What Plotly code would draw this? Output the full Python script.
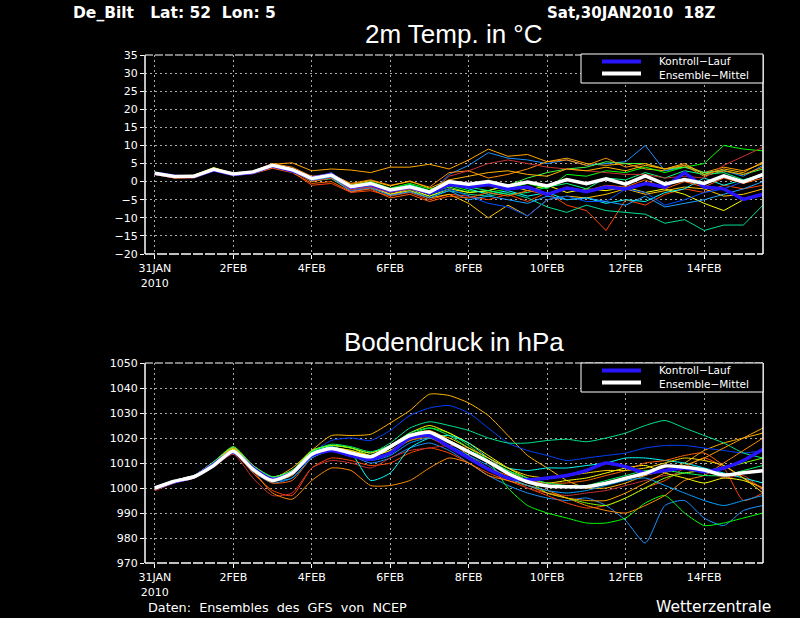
import plotly.graph_objects as go

# ---------------- data ----------------
# forecast lead time in hours from 30JAN2010 18Z (12-hourly samples)
lead_hours = [6, 18, 30, 42, 54, 66, 78, 90, 102, 114, 126, 138, 150, 162, 174, 186,
              198, 210, 222, 234, 246, 258, 270, 282, 294, 306, 318, 330, 342, 354, 366, 378]
tick_hours = [6, 54, 102, 150, 198, 246, 294, 342]
tick_labels = ["31JAN<br>2010", "2FEB", "4FEB", "6FEB", "8FEB", "10FEB", "12FEB", "14FEB"]

temp_ticks = [-20, -15, -10, -5, 0, 5, 10, 15, 20, 25, 30, 35]
pres_ticks = [970, 980, 990, 1000, 1010, 1020, 1030, 1040, 1050]

# 2m temperature (deg C)
temp_mean = [2.3, 1.4, 1.5, 3.4, 2.1, 2.7, 4.5, 3.3, 0.9, 1.8, -1.4, -0.5, -2.3, -1.4, -2.9, 0.0,
             -0.7, 0.0, -1.2, -0.1, -1.2, 0.6, -0.6, 0.8, -0.7, 1.6, -0.7, 0.6, -0.5, 1.6, -0.1, 2.0]
temp_control = [2.3, 1.5, 1.4, 3.2, 2.0, 2.5, 4.4, 3.0, 1.0, 2.0, -1.6, -0.8, -2.5, -1.5, -3.2, -0.8,
                -1.5, -0.8, -2.0, -1.5, -3.5, -1.8, -2.8, -1.5, -2.0, -0.5, -1.5, 2.5, -1.5, -2.0, -4.9, -3.5]
temp_members = [
    [2.0, 1.2, 1.6, 3.6, 2.2, 2.8, 4.8, 5.2, 3.0, 3.5, 3.2, 2.5, 4.0, 4.0, 4.8, 3.5,
     6.0, 9.0, 7.0, 7.5, 5.5, 6.5, 5.0, 4.5, 5.0, 3.5, 3.0, 4.5, 2.5, 4.0, 3.0, 5.0],
    [2.2, 1.5, 1.3, 3.3, 2.0, 2.6, 4.4, 3.5, 0.5, 2.5, -1.8, -1.0, -2.8, -1.2, -3.5, 2.0,
     4.5, 8.0, 6.5, 6.0, 5.0, 6.0, 4.5, 5.0, 5.5, 10.0, 3.0, 4.0, 2.5, 3.0, 1.5, 4.5],
    [2.4, 1.6, 1.8, 3.5, 2.3, 2.5, 4.8, 3.4, 1.0, 2.0, -1.0, 0.0, -1.8, -0.5, -2.0, -1.0,
     -2.5, -3.0, -2.0, -0.5, -2.0, 2.0, 1.5, 3.0, 2.5, 4.0, 2.5, 4.0, 5.0, 10.0, 9.0, 8.5],
    [2.1, 1.3, 1.5, 3.3, 2.1, 2.4, 4.2, 3.0, 0.5, 1.2, -2.0, -1.0, -2.5, -1.5, -3.0, -1.5,
     -3.0, -2.5, -1.0, 1.0, 2.5, 3.5, 4.0, 5.5, 5.0, 5.0, 3.5, 4.0, 2.5, 3.0, 2.0, 3.5],
    [2.0, 1.0, 1.0, 3.0, 1.8, 2.2, 3.8, 2.8, -1.0, -0.5, -3.0, -2.5, -4.0, -3.0, -5.0, -3.5,
     -4.0, -5.0, -3.5, -5.5, -3.0, -6.5, -8.0, -13.5, -5.0, -6.5, -3.5, -2.0, -3.0, -1.0, -2.0, -1.0],
    [2.2, 1.4, 1.6, 3.4, 2.0, 2.4, 4.3, 3.1, 0.2, 0.8, -2.5, -1.5, -3.5, -2.5, -4.0, -2.5,
     -3.5, -4.0, -3.0, -4.5, -7.0, -8.5, -6.5, -8.0, -8.5, -9.0, -11.5, -10.5, -13.5, -12.0, -12.0, -6.5],
    [2.0, 1.6, 1.7, 3.9, 2.2, 2.6, 4.6, 3.3, 0.5, 1.5, -2.0, -1.2, -3.5, -2.0, -4.0, -2.0,
     -3.0, -2.5, -1.0, -2.5, -1.0, -3.0, -2.0, -2.5, -1.5, -3.0, -2.0, -3.5, -6.0, -8.0, -5.0, -3.5],
    [2.3, 1.5, 1.4, 3.2, 2.0, 2.5, 4.2, 3.0, 0.0, 1.0, -2.5, -1.5, -3.5, -2.5, -4.5, -3.5,
     -6.0, -10.0, -6.5, -9.5, -5.0, -4.0, -4.5, -3.5, -2.0, -3.5, -2.5, -1.5, -2.0, -4.0, -3.5, -2.0],
    [2.2, 1.4, 1.6, 3.5, 2.2, 2.6, 4.5, 3.4, 1.2, 1.5, -1.5, -0.8, -2.0, -1.0, -2.5, -0.5,
     -2.0, -3.5, -2.5, -4.0, -3.0, -5.0, -4.5, -6.0, -5.0, -5.5, -3.0, -2.0, 1.0, -1.0, 0.5, 2.0],
    [2.1, 1.3, 1.4, 3.2, 2.0, 2.3, 4.0, 3.0, 0.2, 1.2, -2.5, -1.5, -3.0, -2.0, -3.5, -2.0,
     -4.0, -6.0, -7.0, -9.5, -5.0, -4.0, -5.5, -5.5, -2.0, -3.0, -6.5, -5.0, -3.0, -2.0, 0.0, 1.5],
    [2.0, 1.1, 1.5, 3.6, 2.4, 2.9, 5.0, 4.0, 1.5, 2.0, -0.5, 0.5, -1.0, 0.0, -1.5, 2.5,
     3.0, 1.0, 2.0, 3.5, 5.5, 6.0, 4.5, 6.5, 4.0, 5.0, 3.5, 4.5, 1.5, 3.0, 2.0, 4.0],
    [2.3, 1.5, 1.7, 3.4, 2.1, 2.6, 4.6, 3.2, 0.8, 1.6, -1.2, -0.3, -2.2, -0.8, -2.5, -1.0,
     -1.5, -2.5, -3.5, -3.0, -1.5, -0.5, -2.0, 1.0, 0.5, 2.5, 1.0, 3.0, 2.0, 2.5, 0.5, 1.5],
    [2.2, 1.4, 1.3, 3.1, 1.9, 2.3, 4.1, 2.8, 0.2, 1.0, -2.2, -1.5, -3.0, -2.0, -3.5, 1.5,
     3.0, 5.0, 6.0, 5.0, 4.0, 3.5, 3.0, 2.5, 2.0, 2.0, 1.0, 1.5, 1.0, 4.5, 7.0, 9.5],
    [2.1, 1.2, 1.5, 3.3, 2.1, 2.4, 4.3, 3.0, 0.4, 1.3, -2.8, -1.8, -3.8, -2.8, -4.5, -2.5,
     -5.0, -4.0, -5.0, -6.0, -4.0, -5.0, -4.5, -5.5, -6.5, -4.0, -7.0, -6.0, -5.0, -3.5, -2.0, 0.0],
    [2.4, 1.7, 1.8, 3.7, 2.3, 2.7, 4.7, 3.6, 1.3, 2.3, -0.8, 0.3, -1.2, 0.2, -1.8, 0.5,
     1.5, 2.5, 3.0, 2.0, 1.5, 3.5, 3.0, 4.0, 3.0, 4.5, 3.5, 5.0, 2.0, 3.5, 2.5, 5.5],
    [2.0, 1.0, 1.2, 3.0, 1.7, 2.2, 3.7, 2.5, -0.5, 0.0, -2.8, -2.0, -4.5, -3.5, -5.5, -4.0,
     -4.5, -3.0, -4.0, -2.5, -3.5, -1.5, -2.5, -1.0, -1.5, 0.5, -2.0, 0.0, -1.5, 1.0, -0.5, 1.0],
]

# surface pressure (hPa)
pres_mean = [1000.0, 1002.7, 1004.5, 1009.0, 1014.7, 1007.5, 1003.0, 1006.0, 1013.5, 1015.8, 1014.0,
             1012.5, 1016.5, 1021.0, 1022.3, 1018.5, 1014.5, 1010.5, 1005.9, 1002.5, 1000.8, 1000.5,
             1000.5, 1001.9, 1003.9, 1005.9, 1008.8, 1008.3, 1007.2, 1005.2, 1006.1, 1006.9]
pres_control = [1000.0, 1002.5, 1004.5, 1009.5, 1014.5, 1008.0, 1003.5, 1006.0, 1013.0, 1015.0, 1013.0,
                1011.5, 1014.0, 1020.0, 1021.0, 1016.5, 1012.0, 1007.5, 1004.0, 1003.3, 1004.0, 1005.0,
                1007.0, 1010.0, 1008.5, 1006.0, 1007.0, 1008.0, 1006.5, 1008.0, 1011.0, 1015.5]
pres_members = [
    [999.5, 1002.5, 1004.5, 1010, 1016.5, 1009, 1004, 1008, 1015, 1021, 1021, 1021.5, 1026, 1031, 1037.5, 1037,
     1034, 1029, 1021, 1013, 1008, 1003, 1000, 1000, 1002, 1005, 1007, 1010, 1015, 1018, 1020, 1022],
    [999.8, 1002.8, 1004.8, 1010, 1016, 1008.5, 1003.5, 1006.5, 1014, 1019, 1020, 1019, 1023, 1029, 1032, 1033,
     1030, 1024, 1018, 1015, 1013, 1011, 1012, 1013, 1014, 1016, 1017, 1017, 1016, 1015, 1014, 1015],
    [1000, 1003, 1005, 1010, 1015.5, 1008, 1003.5, 1007, 1014.5, 1017, 1016, 1014, 1018, 1024, 1026.5, 1025,
     1023, 1020, 1018, 1018, 1019, 1019.5, 1018.5, 1020, 1022, 1025, 1027, 1024, 1021, 1018, 1014, 1012],
    [1000, 1002.5, 1004.5, 1009, 1014, 1006.5, 1002, 1004, 1012, 1015, 1013, 1010, 1012, 1016, 1018, 1015,
     1010, 1005, 1001, 998, 996, 995, 996, 993, 987, 978, 993, 995, 988, 985, 991, 993],
    [1000, 1003, 1005, 1010, 1016, 1008, 1004, 1006, 1014, 1016, 1015, 1013, 1016, 1021, 1024, 1022,
     1017, 1011, 1000, 993, 990, 988, 986, 986, 988, 994, 997, 990, 985, 986, 988, 990],
    [999, 1002, 1004, 1009, 1014, 1006, 999, 997, 1008, 1012, 1011, 1009, 1010, 1014, 1016, 1014,
     1010, 1006, 1003, 1000, 997, 994, 992, 993, 996, 1000, 1003, 1008, 1012, 1008, 995, 998],
    [999, 1002, 1004, 1008.5, 1013.5, 1004, 997, 998, 1008, 1011, 1010, 1008, 1012, 1015, 1016, 1017,
     1016, 1012, 1006, 1000, 998, 997, 998, 999, 1001, 1003, 1005, 1006, 1007, 1004, 1005, 999],
    [999.5, 1002.2, 1004, 1009, 1015, 1007, 998, 995.5, 1003, 1008, 1007, 1001, 1001, 1003, 1008, 1012,
     1010, 1005, 1003, 1001, 999, 996, 993, 991, 990, 993, 997, 1003, 1005, 1010, 1015, 1020],
    [1000, 1003, 1005, 1010.5, 1016, 1009, 1004.5, 1007, 1015, 1017, 1016, 1014, 1017, 1022, 1025, 1022,
     1018, 1013, 1008, 1004, 1002, 1003, 1004, 1006, 1008, 1009, 1006, 1004, 1002, 1004, 1003, 1000],
    [1000, 1003, 1005, 1010, 1015, 1008, 1004, 1006, 1014, 1016.5, 1014, 1003, 1006, 1016, 1020, 1021,
     1018, 1012, 1008, 1007, 1008, 1008, 1009, 1010, 1012, 1012, 1011, 1010, 1008, 1006, 1004, 1002],
    [1000, 1003, 1005, 1010, 1016, 1008.5, 1004, 1007, 1015, 1017, 1016, 1013, 1015, 1019, 1021, 1019,
     1015, 1011, 1007, 1003, 998, 996, 994, 993, 996, 1000, 1004, 1006, 1007, 1008, 1010, 1012],
    [1000, 1002.8, 1004.6, 1010, 1016, 1008, 1003, 1005, 1013, 1016, 1015, 1013, 1016, 1021, 1023, 1019,
     1013, 1008, 1004, 1001, 998, 996, 995, 995, 998, 1002, 1006, 1009, 1012, 1016, 1020, 1024],
    [999.5, 1002.4, 1004.3, 1009, 1015, 1007, 1002, 1003, 1012, 1015, 1014, 1012, 1014, 1019, 1020, 1016,
     1012, 1008, 1005, 1003, 1002, 1002, 1003, 1005, 1007, 1010, 1011, 1013, 1014, 1009, 1004, 1000],
    [1000, 1002.9, 1005, 1010.5, 1016.5, 1009, 1004.5, 1007, 1014.5, 1017.5, 1016.5, 1014.5, 1017, 1022, 1024, 1021,
     1016, 1011, 1007, 1004, 1002, 1001, 1001, 1003, 1005, 1007, 1007, 1006, 1005, 1005, 1007, 1009],
    [1000, 1002.6, 1004.5, 1009.5, 1015, 1007, 1003, 1004, 1012, 1015, 1013, 1011, 1013, 1018, 1020, 1017,
     1013, 1009, 1004, 1001, 999, 998, 999, 1001, 1003, 1004, 1001, 998, 995, 993, 995, 997],
    [1000, 1003, 1005, 1010, 1015.5, 1008, 1003.5, 1006, 1014, 1016, 1015, 1013, 1015, 1020, 1022, 1020,
     1016, 1012, 1008, 1005, 1004, 1005, 1006, 1007, 1007, 1008, 1010, 1012, 1011, 1009, 1004, 998],
]

# ---------------- styles ----------------
member_colors = ["#FFA500", "#1E90FF", "#00FF00", "#40FF40", "#FF4500", "#00DC96", "#FFFF00", "#FFC000",
                 "#00FFFF", "#0050FF", "#FF8C00", "#00FF80", "#C83232", "#1EA0FF", "#FFB400", "#FF6000"]
pres_colors = ["#FFB400", "#0040FF", "#00E68C", "#1E90FF", "#00FF00", "#FF4500", "#C83232", "#FF8C00",
               "#FFFF00", "#00FFFF", "#80FF00", "#FFA500", "#FF6400", "#00FF60", "#00A0FF", "#FFD700"]
CONTROL_COLOR = "#2814FF"
FONT = "DejaVu Sans"
W, H = 800, 618


def px(x):
    return x / W


def py(y):
    return 1 - y / H


fig = go.Figure()

for vals, col in zip(temp_members, member_colors):
    fig.add_trace(go.Scatter(x=lead_hours, y=vals, mode="lines", line=dict(color=col, width=1),
                             xaxis="x", yaxis="y", showlegend=False, hoverinfo="skip"))
fig.add_trace(go.Scatter(x=lead_hours, y=temp_control, mode="lines", line=dict(color=CONTROL_COLOR, width=3.5),
                         xaxis="x", yaxis="y", showlegend=False))
fig.add_trace(go.Scatter(x=lead_hours, y=temp_mean, mode="lines", line=dict(color="white", width=3.5),
                         xaxis="x", yaxis="y", showlegend=False))

for vals, col in zip(pres_members, pres_colors):
    fig.add_trace(go.Scatter(x=lead_hours, y=vals, mode="lines",
                             line=dict(color=col, width=1, shape="spline", smoothing=0.6),
                             xaxis="x2", yaxis="y2", showlegend=False, hoverinfo="skip"))
fig.add_trace(go.Scatter(x=lead_hours, y=pres_control, mode="lines",
                         line=dict(color=CONTROL_COLOR, width=3.5, shape="spline", smoothing=0.6),
                         xaxis="x2", yaxis="y2", showlegend=False))
fig.add_trace(go.Scatter(x=lead_hours, y=pres_mean, mode="lines",
                         line=dict(color="white", width=3.5, shape="spline", smoothing=0.6),
                         xaxis="x2", yaxis="y2", showlegend=False))

axis_common = dict(showgrid=True, gridcolor="#A8A8A8", griddash="2px,3px", gridwidth=1,
                   ticks="outside", ticklen=4, tickcolor="white", tickwidth=1,
                   tickfont=dict(family=FONT, size=11, color="white"),
                   zeroline=False, showline=False, fixedrange=True, automargin=False)

xdom = [px(145), px(763)]
fig.update_layout(
    width=W, height=H,
    paper_bgcolor="black", plot_bgcolor="black",
    margin=dict(l=0, r=0, t=0, b=0, pad=0),
    showlegend=False,
    xaxis=dict(domain=xdom, range=[0, 378], tickvals=tick_hours, ticktext=tick_labels,
               anchor="y", **axis_common),
    yaxis=dict(domain=[py(254), py(55)], range=[-20, 35], tickvals=temp_ticks,
               anchor="x", **axis_common),
    xaxis2=dict(domain=xdom, range=[0, 378], tickvals=tick_hours, ticktext=tick_labels,
                anchor="y2", **axis_common),
    yaxis2=dict(domain=[py(563), py(363)], range=[970, 1050], tickvals=pres_ticks,
                anchor="x2", **axis_common),
)

shapes = []
for xa, ya in (("x", "y"), ("x2", "y2")):
    xr, yr = xa + " domain", ya + " domain"
    shapes.append(dict(type="line", xref=xr, yref=yr, x0=0, x1=0, y0=0, y1=1,
                       line=dict(color="white", width=1.5)))
    shapes.append(dict(type="line", xref=xr, yref=yr, x0=1, x1=1, y0=0, y1=1,
                       line=dict(color="white", width=1.5)))
    shapes.append(dict(type="line", xref=xr, yref=yr, x0=0, x1=1, y0=1, y1=1,
                       line=dict(color="white", width=1, dash="8px,2px")))
    shapes.append(dict(type="line", xref=xr, yref=yr, x0=0, x1=1, y0=0, y1=0,
                       line=dict(color="white", width=1.5, dash="10px,2px")))

annotations = []
for top in (54, 363):
    bottom = top + 29
    shapes.append(dict(type="rect", xref="paper", yref="paper", x0=px(581), x1=px(763),
                       y0=py(bottom), y1=py(top), fillcolor="black", line=dict(color="white", width=1),
                       layer="above"))
    shapes.append(dict(type="line", xref="paper", yref="paper", x0=px(602), x1=px(641),
                       y0=py(top + 7.5), y1=py(top + 7.5), line=dict(color=CONTROL_COLOR, width=4)))
    shapes.append(dict(type="line", xref="paper", yref="paper", x0=px(602), x1=px(641),
                       y0=py(top + 19.5), y1=py(top + 19.5), line=dict(color="white", width=4)))
    annotations.append(dict(text="Kontroll−Lauf<br>Ensemble−Mittel", x=px(657), y=py(top + 14),
                            xref="paper", yref="paper", xanchor="left", yanchor="middle", align="left",
                            showarrow=False, font=dict(family=FONT, size=10.5, color="white")))

annotations += [
    dict(text="<b>De_Bilt   Lat: 52  Lon: 5</b>", x=px(71), y=py(13), xanchor="left", yanchor="middle",
         font=dict(family=FONT, size=15.5, color="white")),
    dict(text="<b>Sat,30JAN2010  18Z</b>", x=px(545), y=py(13), xanchor="left", yanchor="middle",
         font=dict(family=FONT, size=15, color="white")),
    dict(text="2m Temp. in °C", x=px(454), y=py(34), xanchor="center", yanchor="middle",
         font=dict(family="Liberation Sans", size=26, color="white")),
    dict(text="Bodendruck in hPa", x=px(454), y=py(342), xanchor="center", yanchor="middle",
         font=dict(family="Liberation Sans", size=26, color="white")),
    dict(text="Daten:  Ensembles  des  GFS  von  NCEP", x=px(146), y=py(607), xanchor="left",
         yanchor="middle", font=dict(family=FONT, size=12.8, color="white")),
    dict(text="Wetterzentrale", x=px(773), y=py(607), xanchor="right", yanchor="middle",
         font=dict(family=FONT, size=15.5, color="white")),
]
for a in annotations:
    a.setdefault("xref", "paper")
    a.setdefault("yref", "paper")
    a.setdefault("showarrow", False)

fig.update_layout(shapes=shapes, annotations=annotations)
fig.write_html(
    "out.html",
    include_plotlyjs=True,
    config={"displayModeBar": False},
    post_script="document.body.style.margin='0';document.body.style.padding='0';"
                "document.body.style.background='black';"
                "document.documentElement.style.background='black';"
                "document.body.style.overflow='hidden';",
)
